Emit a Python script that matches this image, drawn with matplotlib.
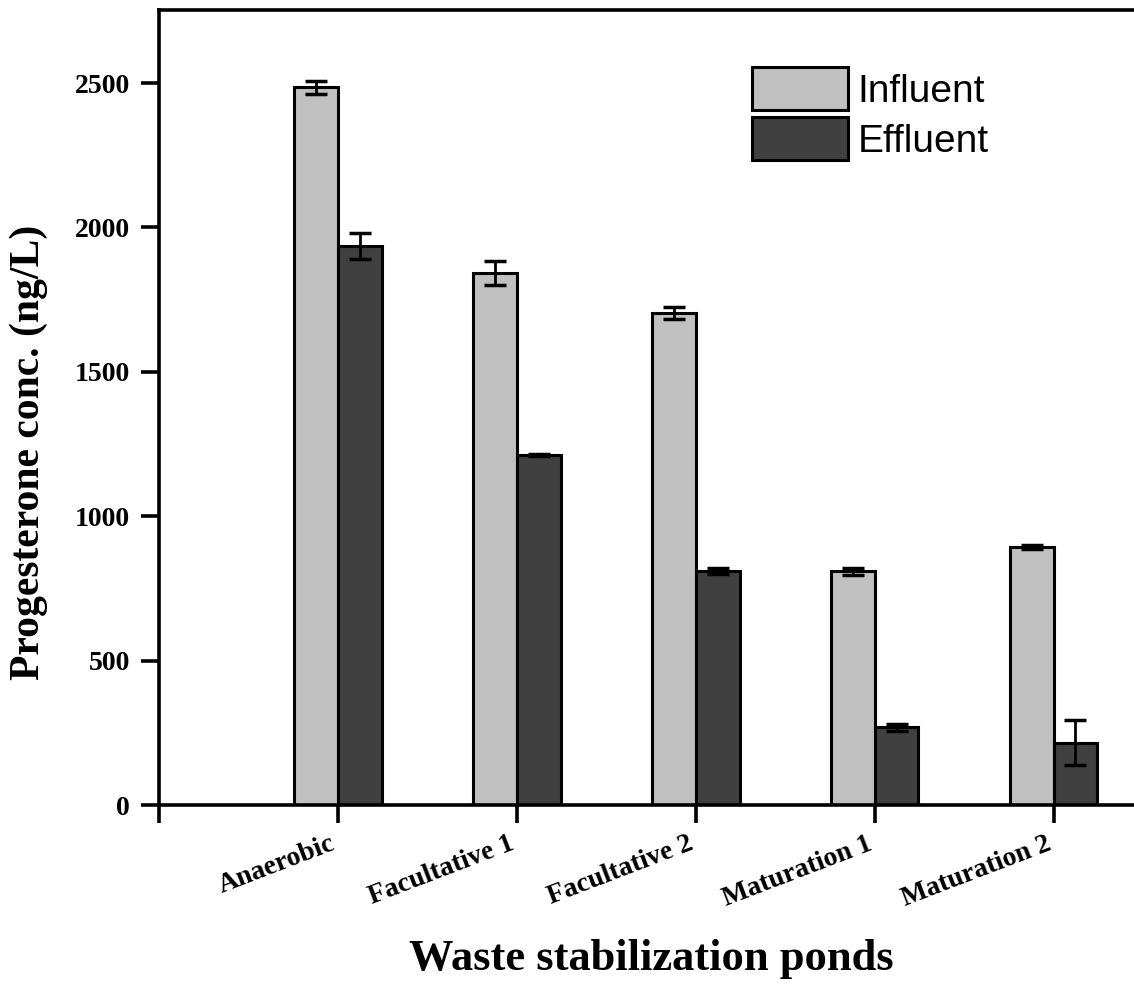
import matplotlib
matplotlib.use("Agg")
import matplotlib.pyplot as plt
import matplotlib.transforms as mtransforms
import numpy as np

# data
ponds = ['Anaerobic', 'Facultative 1', 'Facultative 2', 'Maturation 1', 'Maturation 2']
influent = [2486, 1842, 1703, 810, 893]
influent_err = [22, 41, 20, 12, 8]
effluent = [1935, 1212, 810, 270, 215]
effluent_err = [45, 4, 10, 12, 78]

plt.rcParams['font.family'] = 'Liberation Serif'

fig = plt.figure(figsize=(11.34, 9.85), dpi=100)
ax = fig.add_axes([0.1402, 0.1827, 0.8677, 0.8071])

x = np.arange(1, len(ponds) + 1)
w = 0.245
err_kw = dict(ecolor='black', elinewidth=2, capsize=8, capthick=2.5)

ax.bar(x - w / 2, influent, w, yerr=influent_err, color='#c0c0c0', edgecolor='black',
       linewidth=2.2, label='Influent', error_kw=err_kw, zorder=2)
ax.bar(x + w / 2, effluent, w, yerr=effluent_err, color='#404040', edgecolor='black',
       linewidth=2.2, label='Effluent', error_kw=err_kw, zorder=2)

ax.set_xlim(0, 5.5)
ax.set_ylim(0, 2753)

ax.set_xticks(np.arange(0, 6))
ax.set_xticklabels([''] + ponds, rotation=21, ha='right', rotation_mode='anchor',
                   fontsize=20, fontweight='bold')
ax.set_yticks(np.arange(0, 2501, 500))
ax.set_yticklabels([str(v) for v in range(0, 2501, 500)], fontsize=20, fontweight='bold')

for s in ax.spines.values():
    s.set_linewidth(2.6)
ax.spines['right'].set_visible(False)
ax.tick_params(axis='both', direction='out', length=13, width=2.6)
ax.tick_params(axis='y', pad=8)
ax.tick_params(axis='x', pad=6)

ax.set_ylabel('Progesterone conc. (ng/L)', fontsize=30, fontweight='bold')
ax.yaxis.set_label_coords(-0.113, 0.444)
ax.set_xlabel('Waste stabilization ponds', fontsize=32, fontweight='bold')
ax.xaxis.set_label_coords(0.5, -0.168)

ax.legend(loc='upper left', bbox_to_anchor=(0.6026, 0.928), frameon=False,
          prop={'family': 'Liberation Sans', 'size': 28},
          handlelength=2.47, handleheight=1.3, labelspacing=0.2,
          handletextpad=0.25, borderpad=0, borderaxespad=0)

# nudge the slanted category labels a bit to the left of their ticks
fig.canvas.draw()
shift = mtransforms.ScaledTranslation(-0.08, 0, fig.dpi_scale_trans)
for tick in ax.xaxis.get_major_ticks():
    tick.label1.set_transform(tick.label1.get_transform() + shift)

plt.savefig('out.png', dpi=100)
